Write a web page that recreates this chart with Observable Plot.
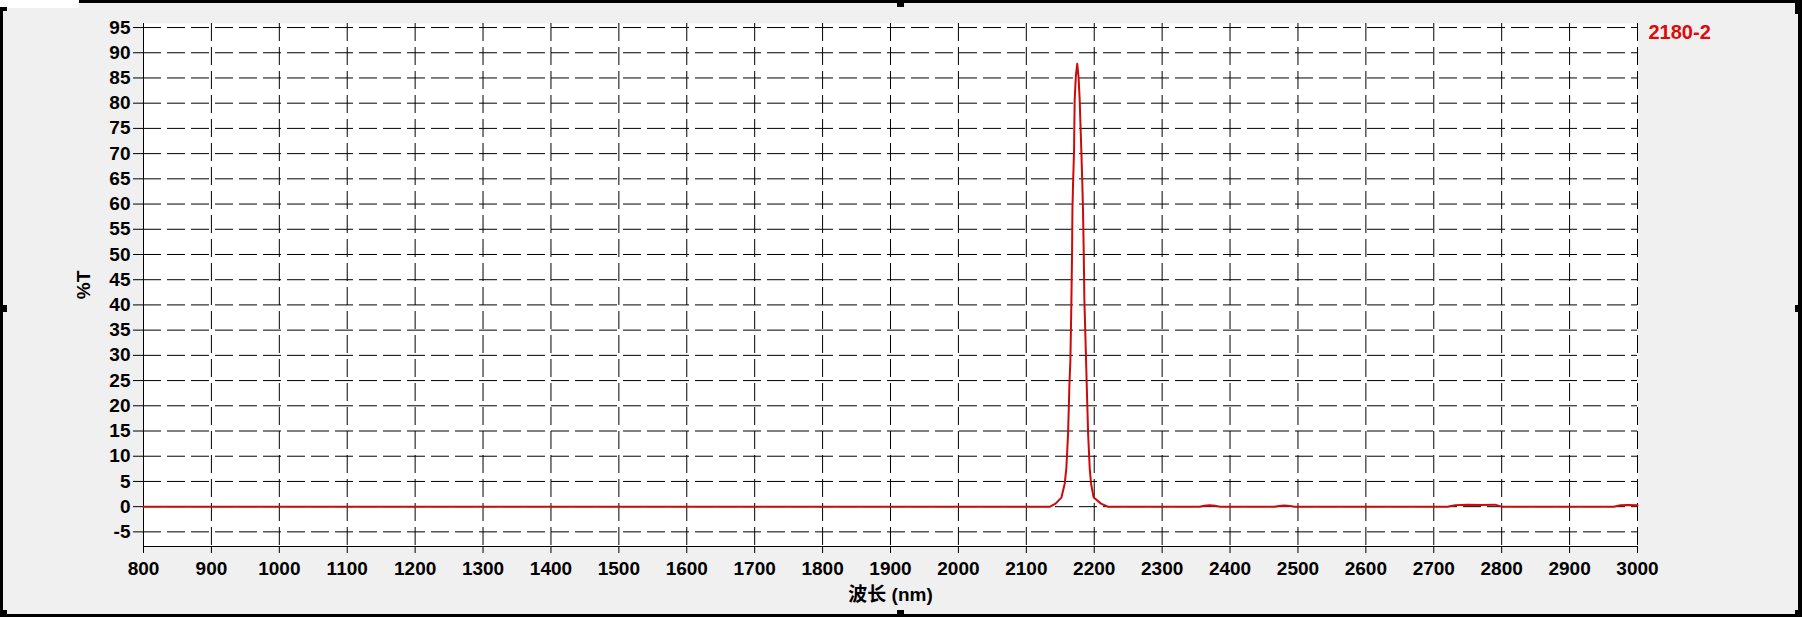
<!DOCTYPE html>
<html><head><meta charset="utf-8">
<script src="https://cdn.jsdelivr.net/npm/d3@7"></script>
<script src="https://cdn.jsdelivr.net/npm/@observablehq/plot@0.6"></script>
<style>
html,body{margin:0;padding:0;background:#f0f0f0;}
#wrap{position:relative;width:1802px;height:617px;overflow:hidden;background:#f0f0f0;}
#wrap svg{position:absolute;left:0;top:0;}
.b{position:absolute;background:#000;}
</style></head><body><div id="wrap"></div>
<script>
const wavelength = [800, 1500, 2000, 2135, 2143, 2151.7, 2156.6, 2159, 2161.5, 2163.5, 2164.9, 2166.4, 2167.4, 2167.9, 2168.8, 2170.3, 2171.2, 2173, 2175, 2177, 2178.6, 2181, 2182.5, 2183.5, 2184.5, 2185.5, 2188, 2188.9, 2191, 2193.3, 2195.3, 2199.2, 2210, 2220, 2355, 2362, 2370, 2378, 2385, 2465, 2472, 2480, 2488, 2495, 2720, 2732, 2750, 2770, 2790, 2800, 2965, 2975, 2985, 3000];
const transmittance = [0, 0, 0, 0, 0.6, 1.8, 4.6, 7.7, 14.5, 24.4, 29, 40.9, 50.8, 58.7, 64, 70.6, 80.6, 85.5, 87.8, 85, 80.6, 70.6, 64, 58.7, 50.8, 40.9, 29, 24.4, 14.5, 7.7, 4.6, 1.8, 0.6, 0, 0, 0.2, 0.3, 0.2, 0, 0, 0.15, 0.25, 0.15, 0, 0, 0.3, 0.4, 0.35, 0.4, 0, 0, 0.3, 0.35, 0.3];
const xTicks = [800, 900, 1000, 1100, 1200, 1300, 1400, 1500, 1600, 1700, 1800, 1900, 2000, 2100, 2200, 2300, 2400, 2500, 2600, 2700, 2800, 2900, 3000];
const yTicks = [-5, 0, 5, 10, 15, 20, 25, 30, 35, 40, 45, 50, 55, 60, 65, 70, 75, 80, 85, 90, 95];
const seriesName = "2180-2";
const xLabel = "波长 (nm)";
const yLabel = "%T";

const data = wavelength.map((w, i) => ({w, t: transmittance[i]}));
const font = "'Liberation Sans', Arial, 'Noto Sans CJK SC', sans-serif";
const yMin = -7.9, yMax = 95.8;
const grid = {stroke: "#000", strokeOpacity: 1, strokeWidth: 1, strokeDasharray: "18,6"};

const chart = Plot.plot({
  width: 1802, height: 617,
  marginLeft: 143, marginRight: 165, marginTop: 23, marginBottom: 71,
  style: {background: "transparent", fontFamily: font, fontSize: "19px", fontWeight: "bold", color: "#000", overflow: "visible"},
  x: {domain: [800, 3000]},
  y: {domain: [yMin, yMax]},
  marks: [
    Plot.frame({fill: "white", stroke: "none"}),
    Plot.gridX(xTicks, grid),
    Plot.gridY(yTicks, grid),
    Plot.ruleX([800], {stroke: "#000"}),
    Plot.ruleY([yMin], {stroke: "#000"}),
    Plot.axisY(yTicks, {tickSize: 10, tickPadding: 3, tickFormat: d => String(d), label: yLabel, labelAnchor: "center", labelArrow: false, labelOffset: 67}),
    Plot.axisX(xTicks, {tickSize: 7, tickPadding: 8, tickFormat: d => String(d), label: xLabel, labelAnchor: "center", labelArrow: false, labelOffset: 54}),
    Plot.line(data, {x: "w", y: "t", stroke: "#cc0a0a", strokeWidth: 2}),
    Plot.text([seriesName], {frameAnchor: "top-right", textAnchor: "start", lineAnchor: "top", dx: 11, dy: 1, fill: "#dc0a0a", fontSize: 20, fontWeight: "bold"})
  ]
});
const wrap = document.getElementById("wrap");
wrap.appendChild(chart);
// window frame decoration
const boxes = [
  [0, 0, 79, 8, "#ffffff"],
  [79, 0, 1723, 3, "#000"],
  [0, 8, 3, 609, "#000"],
  [0, 614, 1802, 3, "#000"],
  [1798, 0, 4, 617, "#000"],
  [0, 7, 7, 4, "#000"],
  [897, 0, 7, 7, "#000"],
  [0, 305, 7, 7, "#000"],
  [1795, 305, 7, 7, "#000"],
  [897, 610, 7, 7, "#000"],
  [0, 610, 7, 7, "#000"],
  [1795, 610, 7, 7, "#000"],
  [1795, 0, 7, 14, "#000"]
];
for (const [l, t, w, h, c] of boxes) {
  const d = document.createElement("div");
  d.className = "b";
  d.style.cssText = `left:${l}px;top:${t}px;width:${w}px;height:${h}px;background:${c}`;
  wrap.appendChild(d);
}
</script></body></html>
